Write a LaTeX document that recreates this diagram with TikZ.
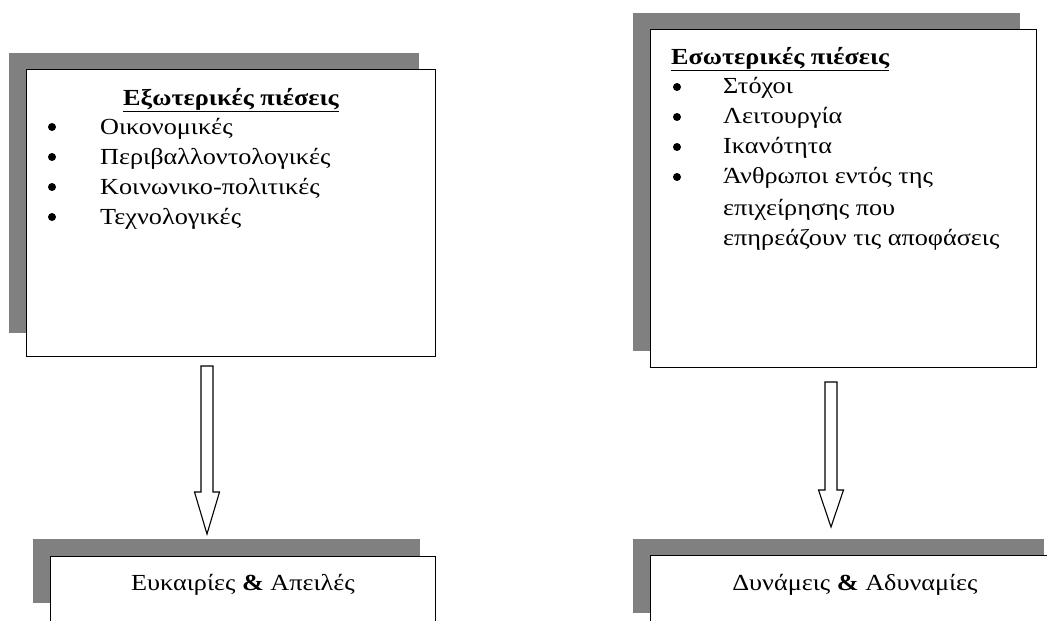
\documentclass[tikz,border=0pt]{standalone}
\usepackage{fontspec}
\setmainfont{Liberation Serif}[FakeStretch=1.14]
\begin{document}
\begin{tikzpicture}[x=1pt,y=-1pt,
  shadowbox/.style={fill=black!50,draw=none},
  framebox/.style={draw=black,line width=1.2pt,fill=white,anchor=north west,inner sep=0pt},
  txt/.style={inner sep=0pt,anchor=base west,font=\fontsize{23}{27}\selectfont},
  bul/.style={circle,fill=black,inner sep=0pt,minimum size=8pt},
  hollow/.style={draw=black,line width=1.1pt,fill=white,line join=miter}]
\clip (0,0) rectangle (1047,621);
\fill[white] (0,0) rectangle (1047,621);
% shadows
\fill[shadowbox] (9,53) rectangle (419,333);
\fill[shadowbox] (633,13) rectangle (1020,351);
\fill[shadowbox] (33,539) rectangle (420,603);
\fill[shadowbox] (633,539) rectangle (1044,613);
% boxes
\node[framebox,minimum width=409pt,minimum height=287pt] (ext) at (26,69) {};
\node[framebox,minimum width=386pt,minimum height=338pt] (int) at (650,29) {};
\node[framebox,minimum width=385pt,minimum height=120pt] (ops) at (50,556) {};
\node[framebox,minimum width=420pt,minimum height=120pt] (swk) at (650,555) {};
% external pressures text
\node[txt,anchor=base] (exttitle) at (231,105) {\textbf{\underline{Εξωτερικές πιέσεις}}};
\foreach \t [count=\i] in {Οικονομικές,Περιβαλλοντολογικές,Κοινωνικο-πολιτικές,Τεχνολογικές}{
  \node[bul] (eb\i) at (52,97+30*\i) {};
  \node[txt] (et\i) at (100,104+30*\i) {\t};
}
% internal pressures text
\node[txt] (inttitle) at (671,64) {\textbf{\underline{Εσωτερικές πιέσεις}}};
\foreach \t [count=\i] in {Στόχοι,Λειτουργία,Ικανότητα,Άνθρωποι εντός της}{
  \node[bul] (ib\i) at (677,57+30*\i) {};
  \node[txt] (it\i) at (723,63+30*\i) {\t};
}
\node[txt] (it5) at (723,215) {επιχείρησης που};
\node[txt] (it6) at (723,245) {επηρεάζουν τις αποφάσεις};
% bottom texts
\node[txt,anchor=base] (opst) at (243,590) {Ευκαιρίες \textbf{\&} Απειλές};
\node[txt,anchor=base] (swkt) at (855,590) {Δυνάμεις \textbf{\&} Αδυναμίες};
% hollow arrows
\coordinate (a1s) at (207,366);
\coordinate (a1t) at (207,534);
\coordinate (a2s) at (831,382);
\coordinate (a2t) at (831,527);
\draw[hollow] (a1s) ++(-6,0) -- ++(0,126) -- ++(-6.5,0) -- (a1t) -- ++(12.5,-42) -- ++(-6.5,0) -- ++(0,-126) -- cycle;
\draw[hollow] (a2s) ++(-6,0) -- ++(0,108) -- ++(-6.5,0) -- (a2t) -- ++(12.5,-37) -- ++(-6.5,0) -- ++(0,-108) -- cycle;
\end{tikzpicture}
\end{document}
